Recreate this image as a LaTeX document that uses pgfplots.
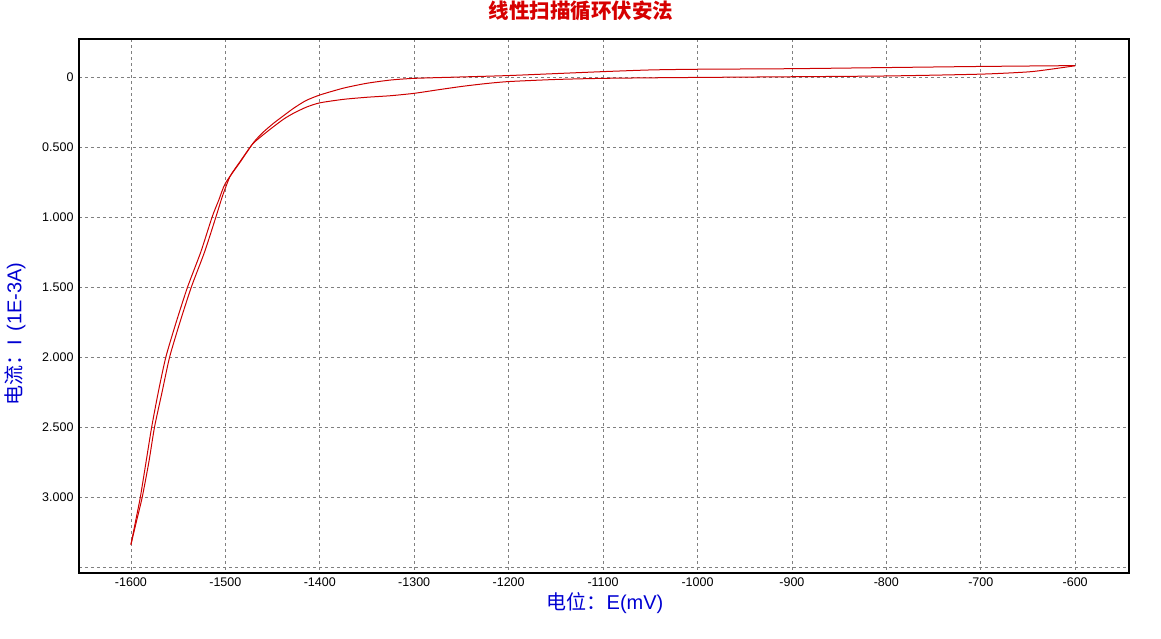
\documentclass[border=0pt]{standalone}
\usepackage{fontspec}
\setmainfont{Liberation Sans}
\newfontfamily\cjk{Noto Sans CJK SC}
\usepackage{pgfplots}
\pgfplotsset{compat=1.18}
\definecolor{curvered}{RGB}{204,0,0}
\definecolor{titlered}{RGB}{214,0,0}
\definecolor{labelblue}{RGB}{0,0,210}
\definecolor{gridgray}{RGB}{128,128,128}

\begin{document}
\begin{tikzpicture}
\begin{axis}[
  scale only axis,
  width=1050pt, height=534pt,
  xmin=-1655, xmax=-543,
  ymin=-0.271, ymax=3.543,
  y dir=reverse,
  xtick={-1600,-1500,-1400,-1300,-1200,-1100,-1000,-900,-800,-700,-600},
  xticklabels={-1600,-1500,-1400,-1300,-1200,-1100,-1000,-900,-800,-700,-600},
  ytick={0,0.5,1,1.5,2,2.5,3,3.5},
  yticklabels={0,0.500,1.000,1.500,2.000,2.500,3.000,{}},
  major tick length=0pt,
  grid=major,
  major grid style={gridgray, line width=0.8pt, dash pattern=on 3pt off 3pt},
  axis line style={black, line width=1.2pt},
  tick label style={font=\fontsize{12.5}{14}\selectfont},
  yticklabel style={xshift=-2pt},
  xticklabel style={yshift=-1pt},
  title={\cjk\bfseries 线性扫描循环伏安法},
  title style={at={(axis description cs:0.478,1.041)}, anchor=center,
    text=titlered, font=\fontsize{20.5}{24}\selectfont},
  xlabel={{\cjk 电位：}E(mV)},
  xlabel style={at={(axis description cs:0.501,-0.056)}, anchor=center,
    text=labelblue, font=\fontsize{20}{23}\selectfont},
  ylabel={{\cjk 电流：}I\ \,(1E-3A)},
  ylabel style={at={(axis description cs:-0.061,0.447)}, anchor=center,
    text=labelblue, font=\fontsize{20}{23}\selectfont},
]
% forward scan -600 -> -1600, then back
\addplot[curvered, line width=1pt, mark=none, smooth, tension=0.4] table {
E I
-600 -0.081
-700 -0.075
-800 -0.067
-900 -0.059
-1000 -0.055
-1050 -0.050
-1100 -0.038
-1150 -0.024
-1200 -0.010
-1250 0.000
-1300 0.010
-1325 0.022
-1350 0.045
-1375 0.080
-1400 0.129
-1415 0.170
-1428 0.225
-1440 0.285
-1449 0.331
-1460 0.395
-1470 0.467
-1484 0.605
-1500 0.760
-1507 0.880
-1514 1.000
-1526 1.250
-1540 1.500
-1552 1.750
-1563 2.000
-1571 2.250
-1578 2.500
-1584 2.750
-1590 3.000
-1595 3.170
-1600 3.340
};
\addplot[curvered, line width=1pt, mark=none, smooth, tension=0.4] table {
E I
-1600 3.340
-1594 3.170
-1588 3.000
-1581 2.750
-1575 2.500
-1567 2.250
-1559 2.000
-1548 1.750
-1536 1.500
-1522 1.250
-1510 1.000
-1503 0.850
-1495 0.710
-1485 0.610
-1472 0.486
-1463 0.430
-1449 0.355
-1438 0.300
-1428 0.260
-1414 0.215
-1400 0.185
-1375 0.160
-1350 0.145
-1325 0.134
-1300 0.117
-1275 0.092
-1250 0.068
-1225 0.048
-1200 0.033
-1150 0.018
-1100 0.010
-1030 0.005
-930 0.000
-800 -0.007
-700 -0.020
-650 -0.036
-626 -0.055
-600 -0.080
};
\end{axis}
\pgfresetboundingbox
\path[use as bounding box] (current axis.south west) ++(-79pt,-65pt) rectangle ++(1161pt,638pt);
\end{tikzpicture}
\end{document}
